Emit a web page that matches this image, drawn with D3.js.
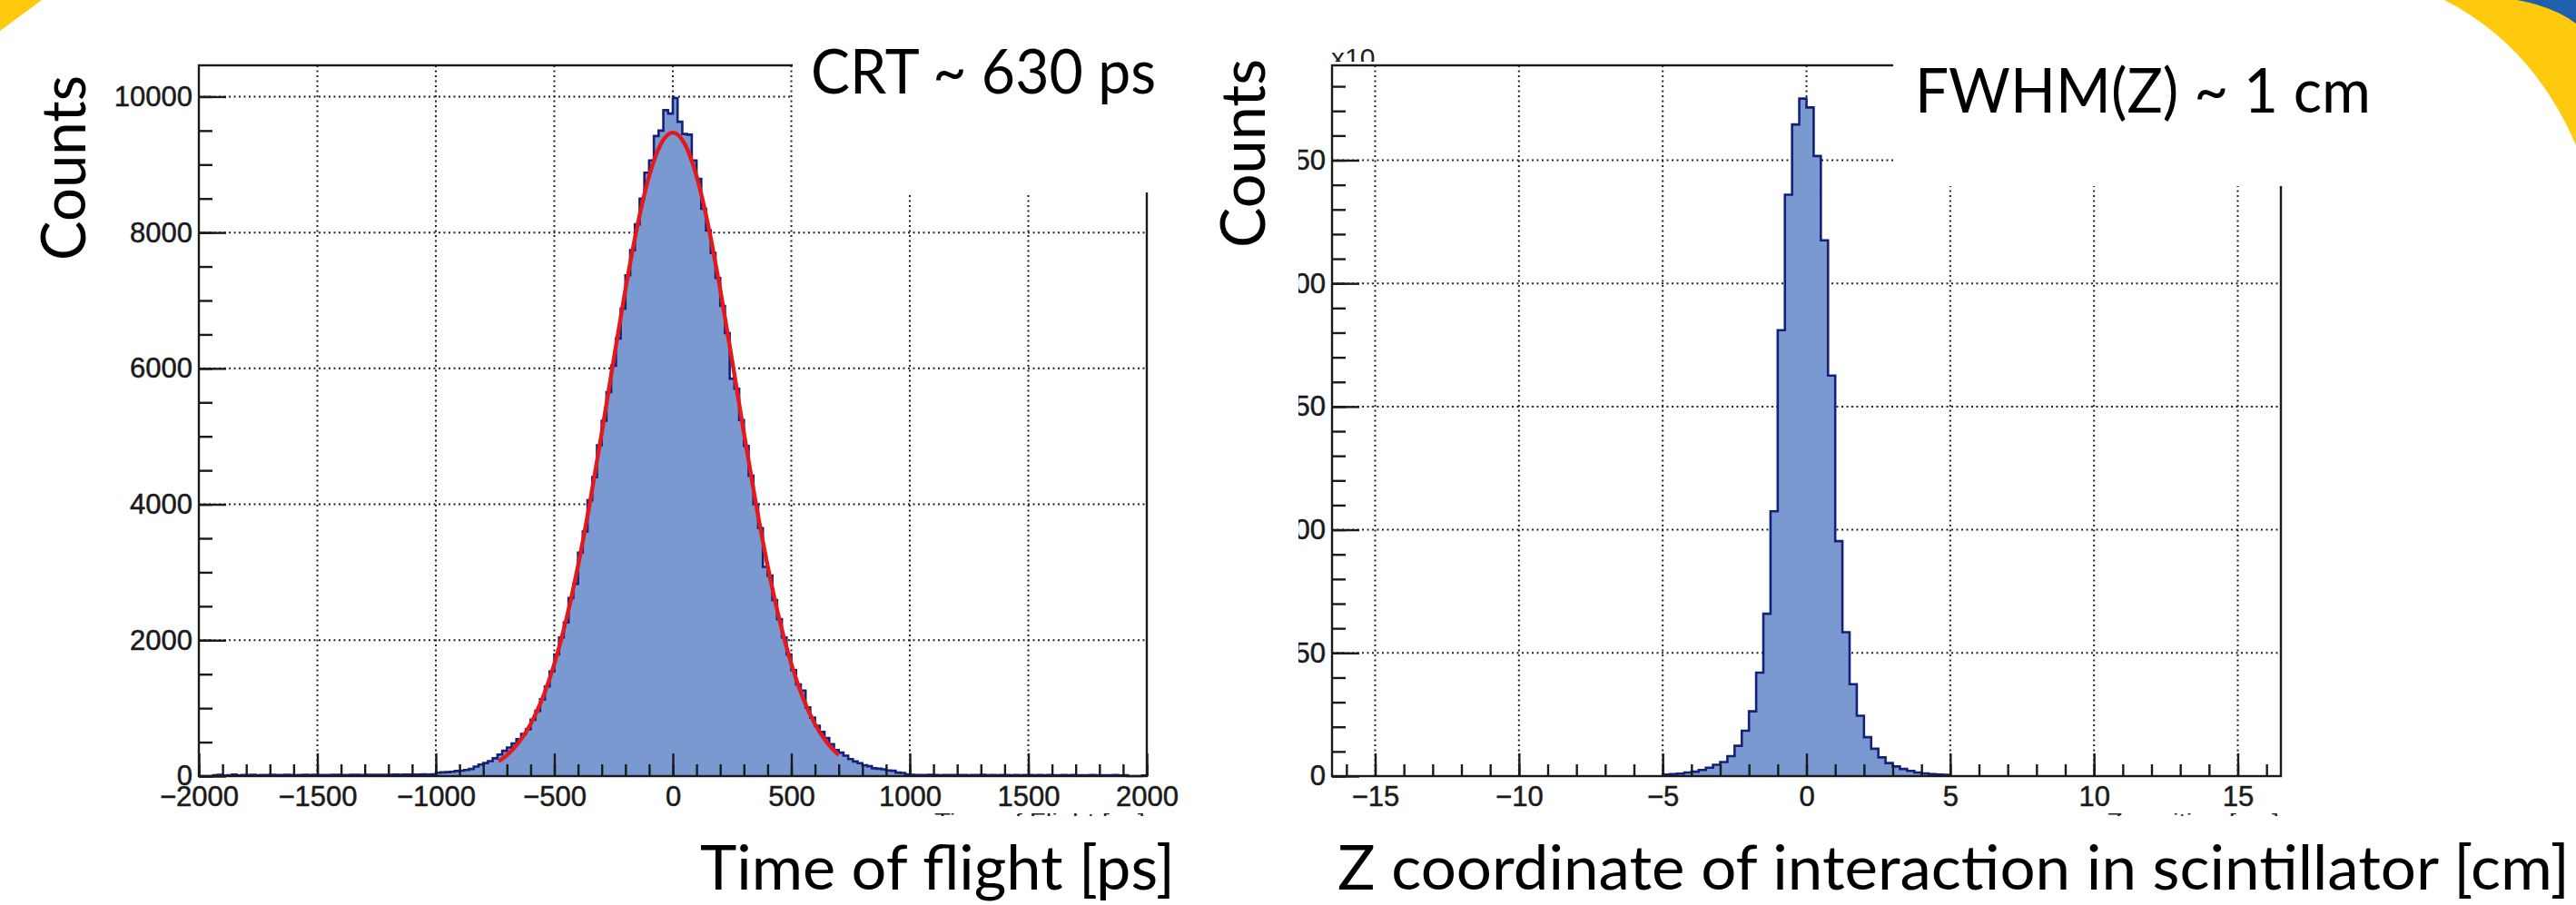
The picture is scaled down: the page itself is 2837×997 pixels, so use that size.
<!DOCTYPE html>
<html>
<head>
<meta charset="utf-8">
<script src="https://cdn.jsdelivr.net/npm/d3@7"></script>
<style>
  html, body { margin: 0; padding: 0; background: #fff; }
  svg { display: block; }
</style>
</head>
<body>
<div id="slide"></div>
<script>
// Time of flight histogram: 20 ps bins from -2000 to 2000 ps
var tofStart = -2000;
var tofBinWidth = 20;
var tofCounts = [
  0, 0, 0, 12, 20, 8, 14, 24, 10, 16,
  15, 18, 14, 17, 16, 19, 15, 17, 18, 16,
  14, 17, 19, 16, 18, 15, 17, 16, 18, 20,
  17, 16, 19, 18, 17, 20, 18, 19, 21, 20,
  19, 22, 21, 23, 22, 24, 23, 25, 24, 27,
  50, 55, 58, 64, 75, 80, 90, 105, 140, 170,
  192, 220, 262, 318, 372, 420, 480, 545, 620, 690,
  830, 960, 1130, 1320, 1540, 1790, 2040, 2260, 2620, 2830,
  3290, 3600, 4060, 4400, 4870, 5230, 5650, 6040, 6440, 6880,
  7370, 7740, 8120, 8500, 8880, 9060, 9420, 9500, 9800, 9750,
  9980, 9630, 9450, 9440, 9060, 8790, 8350, 8030, 7700, 7330,
  6920, 6520, 5850, 5700, 5240, 4860, 4420, 4000, 3650, 3080,
  2950, 2590, 2310, 2040, 1790, 1560, 1350, 1260, 1010, 860,
  740, 650, 560, 470, 385, 345, 300, 250, 215, 190,
  160, 145, 115, 108, 100, 84, 78, 52, 46, 25,
  18, 16, 17, 15, 18, 16, 14, 17, 15, 16,
  15, 17, 14, 16, 15, 18, 14, 16, 13, 15,
  16, 14, 15, 13, 16, 15, 14, 17, 13, 15,
  14, 13, 16, 14, 15, 12, 14, 13, 15, 12,
  13, 14, 12, 15, 11, 13, 0, 0, 0, 9
];

// red fit curve
var fitTime = [-735, -700, -650, -600, -550, -500, -450, -400, -350, -300, -250, -200, -150, -100, -50,
  0, 50, 100, 150, 200, 250, 300, 350, 400, 450, 500, 550, 600, 650, 700];
var fitCounts = [217, 309, 495, 765, 1144, 1651, 2300, 3096, 4024, 5049, 6119, 7161, 8092, 8831, 9306,
  9470, 9306, 8831, 8092, 7161, 6119, 5049, 4024, 3096, 2300, 1651, 1144, 765, 495, 309];

// Z coordinate histogram: 0.25 cm bins from -5 to 5 cm (counts in units of x10^3)
var zStart = -5;
var zBinWidth = 0.25;
var zCounts = [
  0.6, 0.8, 1.0, 1.5, 1.8, 2.5, 3.4, 4.6, 5.7, 8.1,
  12.3, 18.4, 26.3, 42.0, 65.9, 107.5, 181, 236, 264.5, 275,
  271.4, 251.7, 217.5, 162.6, 95.4, 58.4, 37.3, 24.5, 15.8, 11.1,
  7.6, 5.3, 3.9, 2.9, 2.1, 1.5, 1.1, 0.8, 0.6, 0.5
];

// ticks
var tofTicks = [-2000, -1500, -1000, -500, 0, 500, 1000, 1500, 2000];
var tofTickLabels = ['\u22122000', '\u22121500', '\u22121000', '\u2212500', '0', '500', '1000', '1500', '2000'];
var tofCountTicks = [0, 2000, 4000, 6000, 8000, 10000];
var tofCountTickLabels = ['0', '2000', '4000', '6000', '8000', '10000'];
var zTicks = [-15, -10, -5, 0, 5, 10, 15];
var zTickLabels = ['\u221215', '\u221210', '\u22125', '0', '5', '10', '15'];
var zCountTicks = [0, 50, 100, 150, 200, 250];
var zCountTickLabels = ['0', '50', '100', '150', '200', '250'];

var W = 2837, H = 997;
var rootFont = 'Liberation Sans, Arial, Helvetica, sans-serif';
var slideFont = 'Lato, Open Sans, sans-serif';

var svg = d3.select('#slide').append('svg')
  .attr('width', W)
  .attr('height', H);

var defs = svg.append('defs');
defs.append('clipPath').attr('id', 'titleClip')
  .append('rect').attr('x', 0).attr('y', 0).attr('width', W).attr('height', 899);
defs.append('clipPath').attr('id', 'zLabelClip')
  .append('rect').attr('x', 1430).attr('y', 0).attr('width', 300).attr('height', H);
defs.append('clipPath').attr('id', 'expClip')
  .append('rect').attr('x', 1440).attr('y', 0).attr('width', 200).attr('height', 68);

// draws one ROOT style histogram panel
function drawPanel(p) {
  var g = svg.append('g');
  var x = d3.scaleLinear().domain(p.xDomain).range([p.left, p.right]);
  var y = d3.scaleLinear().domain(p.yDomain).range([p.bottom, p.top]);

  // dotted grid
  g.append('g').selectAll('line')
    .data(p.xMajor)
    .join('line')
    .attr('x1', d => x(d)).attr('x2', d => x(d))
    .attr('y1', p.top).attr('y2', p.bottom)
    .attr('stroke', '#222').attr('stroke-width', 2)
    .attr('stroke-dasharray', '2,3.5');
  g.append('g').selectAll('line')
    .data(p.yMajor.filter(d => d > 0))
    .join('line')
    .attr('x1', p.left).attr('x2', p.right)
    .attr('y1', d => y(d)).attr('y2', d => y(d))
    .attr('stroke', '#222').attr('stroke-width', 2)
    .attr('stroke-dasharray', '2,3.5');

  // histogram
  var pts = [[p.start, 0]];
  p.counts.forEach(function(c, i) { pts.push([p.start + i * p.binWidth, c]); });
  pts.push([p.start + p.counts.length * p.binWidth, 0]);

  g.append('path')
    .datum(pts)
    .attr('d', d3.area().x(d => x(d[0])).y0(y(0)).y1(d => y(d[1])).curve(d3.curveStepAfter))
    .attr('fill', '#7b99d1');
  g.append('path')
    .datum(pts)
    .attr('d', d3.line().x(d => x(d[0])).y(d => y(d[1])).curve(d3.curveStepAfter))
    .attr('fill', 'none')
    .attr('stroke', '#15207a')
    .attr('stroke-width', 2.6);

  if (p.fitX) {
    g.append('path')
      .datum(p.fitX.map((t, i) => [t, p.fitY[i]]))
      .attr('d', d3.line().x(d => x(d[0])).y(d => y(d[1])).curve(d3.curveMonotoneX))
      .attr('fill', 'none')
      .attr('stroke', '#e3191c')
      .attr('stroke-width', 4.4);
  }

  // x axis, minor then major ticks (pointing inwards like ROOT)
  var xg = g.append('g').attr('transform', 'translate(0,' + p.bottom + ')');
  xg.append('g').call(d3.axisBottom(x).tickValues(p.xMinor).tickSize(-13).tickSizeOuter(0).tickFormat(''));
  xg.append('g').call(d3.axisBottom(x).tickValues(p.xMajor).tickSize(-25).tickSizeOuter(0)
    .tickPadding(11).tickFormat((d, i) => p.xLabels[i]));

  // y axis; the wrapper has no transform so the clip works in page coordinates
  var yWrap = g.append('g');
  if (p.labelClip) yWrap.attr('clip-path', 'url(#' + p.labelClip + ')');
  var yg = yWrap.append('g').attr('transform', 'translate(' + p.left + ',0)');
  yg.append('g').call(d3.axisLeft(y).tickValues(p.yMinor).tickSize(-15).tickSizeOuter(0).tickFormat(''));
  yg.append('g').call(d3.axisLeft(y).tickValues(p.yMajor).tickSize(-30).tickSizeOuter(0)
    .tickPadding(7).tickFormat((d, i) => p.yLabels[i]));

  g.selectAll('.domain').remove();
  g.selectAll('.tick line').attr('stroke', '#1a1a1a').attr('stroke-width', 2.4);
  g.selectAll('.tick text')
    .attr('font-family', rootFont)
    .attr('font-size', 31)
    .attr('fill', '#1a1a1a')
    .attr('stroke', '#1a1a1a')
    .attr('stroke-width', 0.5);

  // frame
  g.append('rect')
    .attr('x', p.left).attr('y', p.top)
    .attr('width', p.right - p.left).attr('height', p.bottom - p.top)
    .attr('fill', 'none').attr('stroke', '#1a1a1a').attr('stroke-width', 2.4);

  // ROOT axis title, only the tops of the letters show below the crop line
  g.append('text')
    .attr('x', p.right - 2).attr('y', p.bottom + 53.6)
    .attr('text-anchor', 'end')
    .attr('font-family', rootFont).attr('font-size', 18).attr('fill', '#222')
    .attr('textLength', p.rootTitleLen)
    .attr('lengthAdjust', 'spacingAndGlyphs')
    .attr('clip-path', 'url(#titleClip)')
    .text(p.rootTitle);

  return g;
}

// left panel: time of flight
drawPanel({
  left: 219, right: 1263, top: 72, bottom: 855,
  xDomain: [-2000, 2000], yDomain: [0, 10460],
  xMajor: tofTicks, xLabels: tofTickLabels, xMinor: d3.range(-2000, 2001, 100),
  yMajor: tofCountTicks, yLabels: tofCountTickLabels, yMinor: d3.range(0, 10001, 500),
  start: tofStart, binWidth: tofBinWidth, counts: tofCounts,
  fitX: fitTime, fitY: fitCounts,
  rootTitle: 'Time of Flight [ps]', rootTitleLen: 232
});

// right panel: Z coordinate
drawPanel({
  left: 1467, right: 2512, top: 72, bottom: 855,
  xDomain: [-16.5, 16.5], yDomain: [0, 288.5],
  xMajor: zTicks, xLabels: zTickLabels, xMinor: d3.range(-16, 17, 1),
  yMajor: zCountTicks, yLabels: zCountTickLabels, yMinor: d3.range(0, 281, 10),
  start: zStart, binWidth: zBinWidth, counts: zCounts,
  labelClip: 'zLabelClip',
  rootTitle: 'Z position [cm]', rootTitleLen: 190
});

svg.append('text')
  .attr('x', 1466).attr('y', 74)
  .attr('font-family', rootFont).attr('font-size', 30).attr('fill', '#222')
  .attr('clip-path', 'url(#expClip)')
  .text('x10');

// white text boxes laid over the plots
svg.append('rect').attr('x', 873).attr('y', 0).attr('width', 440).attr('height', 212).attr('fill', '#fff');
svg.append('rect').attr('x', 2085).attr('y', 0).attr('width', 752).attr('height', 205).attr('fill', '#fff');

function slideText(txt, x, y, len, rotate) {
  var t = svg.append('text')
    .attr('font-family', slideFont)
    .attr('font-size', 68)
    .attr('fill', '#000')
    .attr('textLength', len)
    .attr('lengthAdjust', 'spacingAndGlyphs')
    .text(txt);
  if (rotate) {
    t.attr('text-anchor', 'middle').attr('transform', 'translate(' + x + ',' + y + ') rotate(-90)');
  } else {
    t.attr('x', x).attr('y', y);
  }
  return t;
}

slideText('CRT ~ 630 ps', 893, 103, 380);
slideText('FWHM(Z) ~ 1 cm', 2109, 124, 502);
slideText('Counts', 94, 185, 204, true);
slideText('Counts', 1393, 169, 208, true);
slideText('Time of flight [ps]', 771, 980, 523);
slideText('Z coordinate of interaction in scintillator [cm]', 1473, 980, 1357);

// slide decoration
svg.append('path').attr('d', 'M0,0 L46,0 L0,34 Z').attr('fill', '#ffc90e');
svg.append('path').attr('d', 'M2692,0 Q2790,50 2837,160 L2837,0 Z').attr('fill', '#ffc90e');
svg.append('path').attr('d', 'M2772,0 Q2815,8 2837,26 L2837,0 Z').attr('fill', '#1f5fad');
</script>
</body>
</html>
